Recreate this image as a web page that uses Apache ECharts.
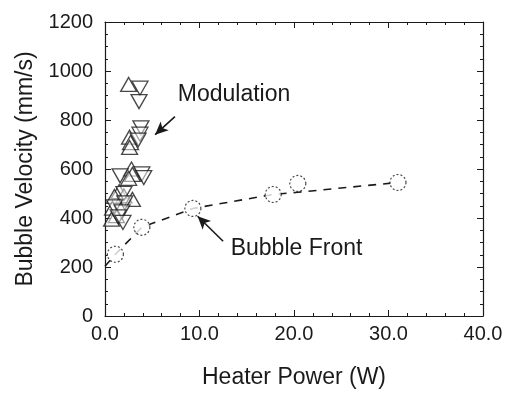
<!DOCTYPE html>
<html>
<head>
<meta charset="utf-8">
<script src="https://cdn.jsdelivr.net/npm/echarts@6/dist/echarts.min.js"></script>
<style>html,body{margin:0;padding:0;background:#fff}#c{width:514px;height:394px}</style>
</head>
<body>
<div id="c"></div>
<script>
// ---- data ----
const xTickLabels = ['0.0', '10.0', '20.0', '30.0', '40.0'];
const yTickLabels = ['0', '200', '400', '600', '800', '1000', '1200'];
// Modulation: upward triangles (heater power W, velocity mm/s)
const modUpX = [2.5, 2.6, 2.7, 2.6, 2.8, 2.9, 2.5, 1.5, 2.0, 1.0, 2.9, 0.8, 1.2, 0.7];
const modUpY = [945, 730, 708, 688, 600, 578, 562, 508, 490, 488, 476, 440, 410, 395];
// Modulation: downward triangles
const modDownX = [3.7, 3.6, 3.8, 3.7, 3.5, 1.6, 3.9, 4.1, 2.0, 2.1, 1.0, 1.8, 1.4, 1.9];
const modDownY = [930, 875, 768, 742, 718, 572, 580, 565, 500, 462, 445, 425, 405, 382];
// Bubble front: circles
const frontX = [1.1, 3.9, 9.3, 17.8, 20.4, 31.0];
const frontY = [252, 362, 439, 496, 541, 545];
// dashed fit line through bubble front
const fitX = [0, 1.1, 3.9, 9.3, 17.8, 20.4, 31.0];
const fitY = [203, 252, 362, 439, 496, 505, 545];
// annotation arrows [tailX, tailY, headX, headY]
const modArrow = [7.4, 814, 5.3, 740];
const frontArrow = [12.5, 305, 9.8, 407];
const modLabel = 'Modulation';
const frontLabel = 'Bubble Front';

const zip = (a, b) => a.map((v, i) => [v, b[i]]);
const ink = '#1a1a1a';
const font = 'Liberation Sans, Arial, Helvetica, sans-serif';

const chart = echarts.init(document.getElementById('c'), null, {renderer: 'canvas'});

function axisCommon(showLabel, formatter) {
  return {
    axisLine: {show: true, onZero: false, lineStyle: {color: ink, width: 1.2}},
    axisTick: {show: true, inside: true, length: 6, lineStyle: {color: ink, width: 1}},
    splitLine: {show: false},
    axisLabel: {show: showLabel, color: ink, fontFamily: font, fontSize: 20, formatter: formatter}
  };
}

const xFmt = (v) => xTickLabels[Math.round(v / 10)];
const yFmt = (v) => yTickLabels[Math.round(v / 200)];

const option = {
  backgroundColor: '#fff',
  animation: false,
  grid: {left: 105, right: 31, top: 22, bottom: 77, containLabel: false},
  xAxis: [
    Object.assign({type: 'value', position: 'bottom', min: 0, max: 40, interval: 10,
      name: 'Heater Power (W)', nameLocation: 'middle', nameGap: 50,
      nameTextStyle: {color: ink, fontFamily: font, fontSize: 23}},
      axisCommon(true, xFmt), {minorTick: {show: true, splitNumber: 5, length: 3, lineStyle: {color: ink}}}),
    Object.assign({type: 'value', position: 'top', min: 0, max: 40, interval: 10},
      axisCommon(false), {minorTick: {show: true, splitNumber: 5, length: 3, lineStyle: {color: ink}}})
  ],
  yAxis: [
    Object.assign({type: 'value', position: 'left', min: 0, max: 1200, interval: 200,
      name: 'Bubble Velocity (mm/s)', nameLocation: 'middle', nameGap: 67,
      nameTextStyle: {color: ink, fontFamily: font, fontSize: 23}},
      axisCommon(true, yFmt), {axisLabel: {color: ink, fontFamily: font, fontSize: 20, margin: 12, formatter: yFmt},
      minorTick: {show: true, splitNumber: 4, length: 3, lineStyle: {color: ink}}}),
    Object.assign({type: 'value', position: 'right', min: 0, max: 1200, interval: 200},
      axisCommon(false), {minorTick: {show: true, splitNumber: 4, length: 3, lineStyle: {color: ink}}})
  ],
  series: [
    {
      type: 'line', data: zip(fitX, fitY), symbol: 'none', silent: true,
      lineStyle: {color: ink, width: 1.6, type: [8, 7]}, z: 2
    },
    {
      type: 'scatter', data: zip(frontX, frontY), symbol: 'circle', symbolSize: 16,
      itemStyle: {color: '#fff', borderColor: ink, borderWidth: 1.2, borderType: [2, 2]}, z: 3,
      markLine: {
        silent: true, symbol: ['none', 'arrow'], symbolSize: [9, 13],
        lineStyle: {color: ink, width: 1.6, type: 'solid'}, label: {show: false},
        data: [
          [{coord: [frontArrow[0], frontArrow[1]]}, {coord: [frontArrow[2], frontArrow[3]]}],
          [{coord: [modArrow[0], modArrow[1]]}, {coord: [modArrow[2], modArrow[3]]}]
        ]
      }
    },
    {
      type: 'scatter', data: zip(modUpX, modUpY), symbol: 'triangle', symbolSize: [16, 14],
      itemStyle: {color: 'rgba(255,255,255,0.6)', borderColor: ink, borderWidth: 1.3}, z: 4
    },
    {
      type: 'scatter', data: zip(modDownX, modDownY), symbol: 'triangle', symbolRotate: 180, symbolSize: [16, 14],
      itemStyle: {color: 'rgba(255,255,255,0.6)', borderColor: ink, borderWidth: 1.3}, z: 4
    }
  ],
  graphic: []
};
chart.setOption(option);

// text annotations placed from data coordinates
const pMod = chart.convertToPixel({xAxisIndex: 0, yAxisIndex: 0}, [7.7, 893]);
const pFront = chart.convertToPixel({xAxisIndex: 0, yAxisIndex: 0}, [13.3, 265]);
chart.setOption({
  graphic: [
    {type: 'text', left: pMod[0], top: pMod[1] - 14, style: {text: modLabel, fill: ink, font: '23px ' + font}},
    {type: 'text', left: pFront[0], top: pFront[1] - 14, style: {text: frontLabel, fill: ink, font: '23px ' + font}}
  ]
});
</script>
</body>
</html>
